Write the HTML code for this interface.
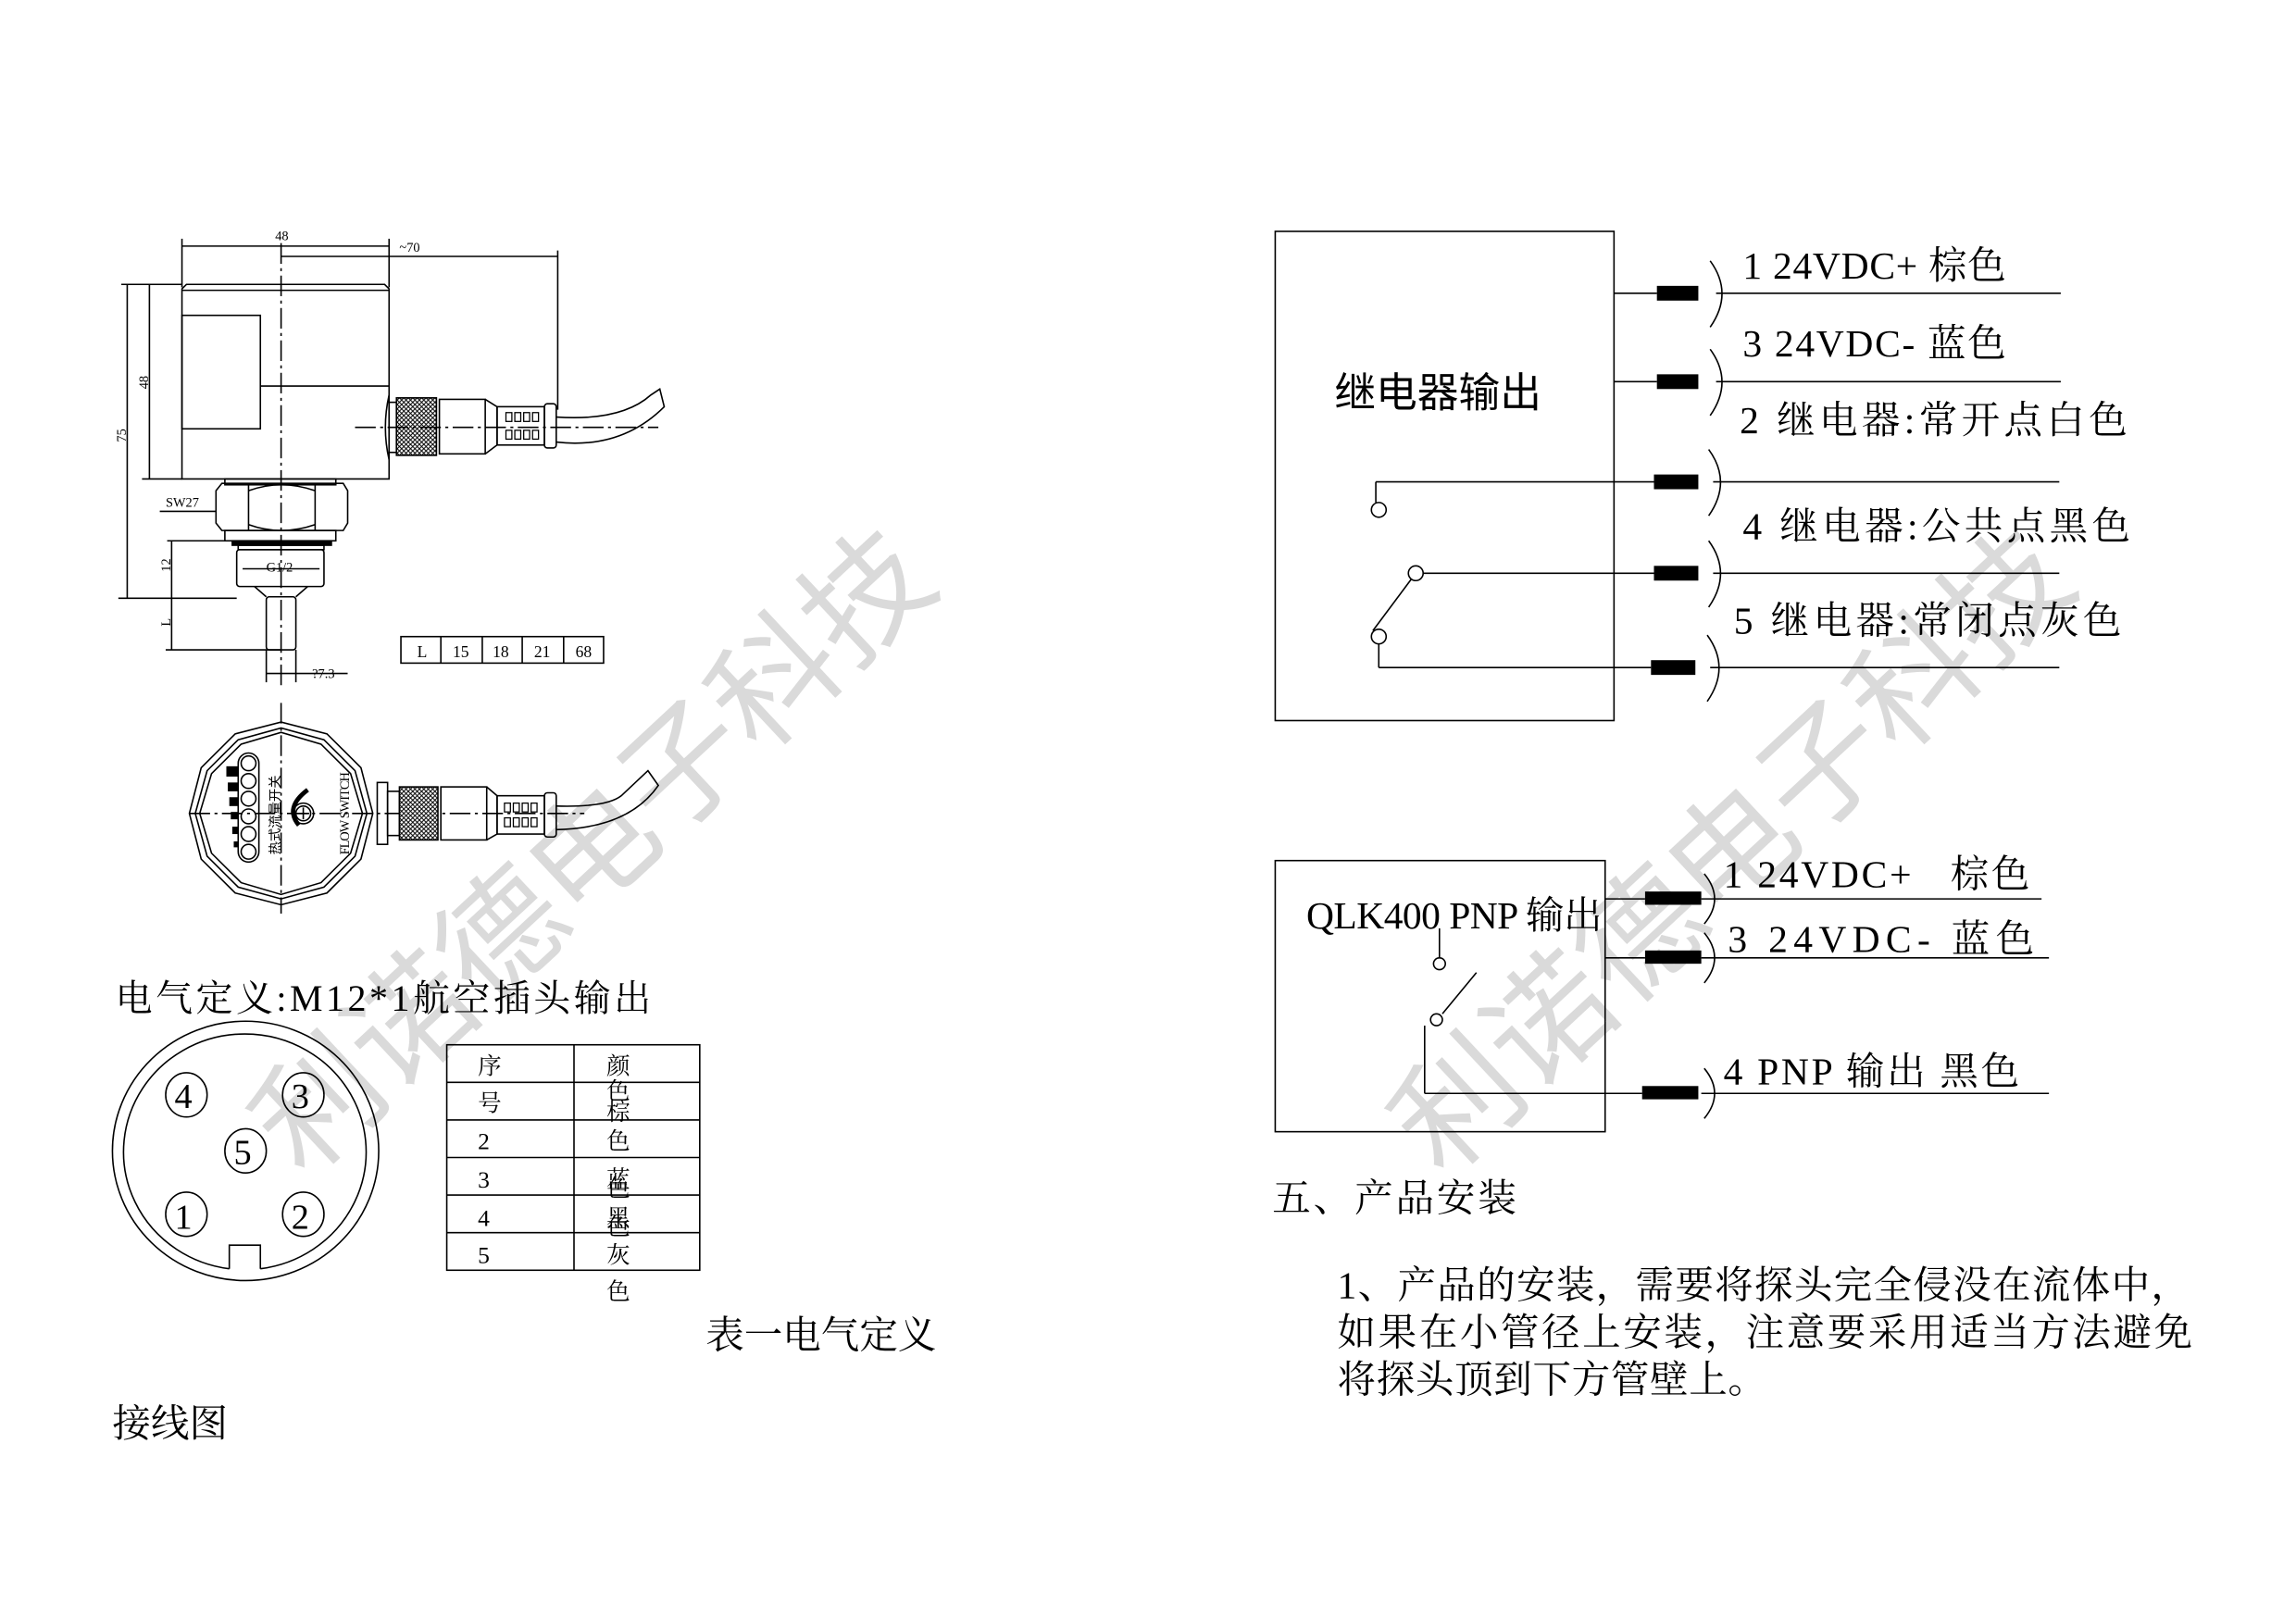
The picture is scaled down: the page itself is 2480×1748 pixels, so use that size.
<!DOCTYPE html>
<html><head><meta charset="utf-8"><style>
html,body{margin:0;padding:0;background:#fff}
svg{display:block}
text{font-family:"Liberation Serif","Noto Serif CJK SC",serif;fill:#000}
.s{font-family:"Liberation Sans","Noto Sans CJK SC",sans-serif}
</style></head><body>
<svg width="2480" height="1748" viewBox="0 0 1552 1098" preserveAspectRatio="none" xmlns="http://www.w3.org/2000/svg">
<g fill="#dcdcdc" opacity="0.9">
<text x="0" y="0" font-size="84" class="s" style="fill:#d6d6d6" transform="translate(205,800) rotate(-43)" textLength="590" lengthAdjust="spacingAndGlyphs">利诺德电子科技</text>
<text x="0" y="0" font-size="84" class="s" style="fill:#d6d6d6" transform="translate(975,800) rotate(-43)" textLength="590" lengthAdjust="spacingAndGlyphs">利诺德电子科技</text>
</g>
<g stroke="#000" stroke-width="1" fill="none">
<!-- top dims -->
<line x1="123" y1="162" x2="123" y2="195"/><line x1="263" y1="162" x2="263" y2="195"/>
<line x1="123" y1="167" x2="263" y2="167"/>
<line x1="190" y1="174" x2="377" y2="174"/><line x1="377" y1="170" x2="377" y2="278"/>
<!-- body -->
<path d="M126 193 H260 L263 196 V325 H123 V196 Z"/>
<line x1="123" y1="197" x2="263" y2="197"/>
<rect x="123" y="214" width="53" height="77"/>
<line x1="176" y1="262" x2="263" y2="262"/>
<line x1="190" y1="165" x2="190" y2="465" stroke-dasharray="14,3,2,3"/>
<!-- left dims -->
<line x1="86" y1="193" x2="86" y2="406"/><line x1="101" y1="193" x2="101" y2="325"/>
<line x1="82" y1="193" x2="123" y2="193"/><line x1="96" y1="325" x2="123" y2="325"/>
<line x1="80" y1="406" x2="160" y2="406"/>
<line x1="113" y1="367" x2="157" y2="367"/>
<line x1="116" y1="367" x2="116" y2="441"/>
<line x1="112" y1="441" x2="190" y2="441"/>
<line x1="108" y1="347" x2="146" y2="347"/>
<!-- hex -->
<rect x="152" y="325" width="75" height="4"/>
<path d="M150 328 H232 L235 333 V355 L232 360 H150 L146 355 V333 Z"/>
<line x1="168" y1="329" x2="168" y2="360"/><line x1="213" y1="329" x2="213" y2="360"/>
<path d="M168 333 Q190 325 213 333 M168 356 Q190 364 213 356"/>
<rect x="152" y="360" width="75" height="7"/>
<rect x="157" y="367" width="67" height="3" fill="#000"/>
<rect x="161" y="370" width="58" height="3"/>
<rect x="160" y="373" width="59" height="25" rx="2"/>
<line x1="164" y1="386" x2="216" y2="386"/>
<path d="M172 398 L180 405 M208 398 L200 405"/>
<rect x="180" y="405" width="20" height="36" rx="2"/>
<line x1="180" y1="441" x2="180" y2="463"/><line x1="200" y1="441" x2="200" y2="463"/>
<line x1="180" y1="457" x2="235" y2="457"/>
<!-- side connector -->
<path d="M263 268 Q258 290 263 312"/>
<rect x="263" y="273" width="5" height="34"/>
<rect x="268" y="270" width="27" height="39" fill="url(#kn)"/>
<rect x="297" y="271" width="31" height="37"/>
<path d="M328 271 L336 276 V302 L328 308"/>
<rect x="336" y="276" width="32" height="26"/>
<rect x="368" y="274" width="8" height="30" rx="2"/>
<g stroke-width="0.8"><rect x="342" y="280" width="4" height="6"/><rect x="348" y="280" width="4" height="6"/><rect x="354" y="280" width="4" height="6"/><rect x="360" y="280" width="4" height="6"/>
<rect x="342" y="292" width="4" height="6"/><rect x="348" y="292" width="4" height="6"/><rect x="354" y="292" width="4" height="6"/><rect x="360" y="292" width="4" height="6"/></g>
<path d="M376 283 Q420 286 440 268 L446 264 L449 276 Q420 305 376 300"/>
<line x1="240" y1="290" x2="445" y2="290" stroke-dasharray="14,3,2,3"/>
<!-- L table -->
<rect x="271" y="432" width="137" height="18"/>
<line x1="298" y1="432" x2="298" y2="450"/><line x1="326" y1="432" x2="326" y2="450"/><line x1="353" y1="432" x2="353" y2="450"/><line x1="381" y1="432" x2="381" y2="450"/>
<!-- bottom view -->
<polygon points="252,552 244,521 221,498 190,490 159,498 136,521 128,552 136,583 159,606 190,614 221,606 244,583"/>
<polygon points="248,552 240,523 219,502 190,494 161,502 140,523 132,552 140,581 161,602 190,610 219,602 240,581"/>
<polygon points="245,552 237,525 217,505 190,497 163,505 143,525 135,552 143,579 163,599 190,607 217,599 237,579"/>
<line x1="128" y1="552" x2="395" y2="552" stroke-dasharray="14,3,2,3"/>
<line x1="190" y1="477" x2="190" y2="620" stroke-dasharray="14,3,2,3"/>
<rect x="161" y="511" width="14" height="74" rx="7"/>
<circle cx="168" cy="518" r="5"/><circle cx="168" cy="530" r="5"/><circle cx="168" cy="542" r="5"/><circle cx="168" cy="554" r="5"/><circle cx="168" cy="566" r="5"/><circle cx="168" cy="578" r="5"/>
<circle cx="205" cy="552" r="7"/><circle cx="205" cy="552" r="5"/><path d="M201 552h8M205 548v8"/>
<path d="M202 560 Q192 548 208 536" stroke-width="3"/>
<rect x="255" y="531" width="7" height="42"/>
<rect x="262" y="537" width="8" height="30"/>
<rect x="270" y="534" width="26" height="36" fill="url(#kn)"/>
<rect x="298" y="534" width="31" height="36"/>
<path d="M329 534 L336 540 V566 L329 570"/>
<rect x="336" y="540" width="32" height="26"/>
<rect x="368" y="538" width="8" height="30" rx="2"/>
<g stroke-width="0.8"><rect x="341" y="545" width="4" height="6"/><rect x="347" y="545" width="4" height="6"/><rect x="353" y="545" width="4" height="6"/><rect x="359" y="545" width="4" height="6"/>
<rect x="341" y="555" width="4" height="6"/><rect x="347" y="555" width="4" height="6"/><rect x="353" y="555" width="4" height="6"/><rect x="359" y="555" width="4" height="6"/></g>
<path d="M376 547 Q410 548 420 540 L438 523 L445 533 Q425 562 376 563"/>
<!-- connector face -->
<ellipse cx="166" cy="781" rx="90" ry="88"/>
<path d="M155 861 A82 80 0 1 1 176 861"/>
<path d="M155 861 V845 H176 V861"/>
<ellipse cx="126" cy="743" rx="14" ry="15"/><ellipse cx="205" cy="743" rx="14" ry="15"/>
<ellipse cx="166" cy="781" rx="14" ry="15"/><ellipse cx="126" cy="824" rx="14" ry="15"/><ellipse cx="205" cy="824" rx="14" ry="15"/>
<!-- table -->
<rect x="302" y="709" width="171" height="153"/>
<line x1="388" y1="709" x2="388" y2="862"/>
<line x1="302" y1="734.5" x2="473" y2="734.5"/><line x1="302" y1="760" x2="473" y2="760"/><line x1="302" y1="785.5" x2="473" y2="785.5"/><line x1="302" y1="811" x2="473" y2="811"/><line x1="302" y1="836.5" x2="473" y2="836.5"/>
<!-- relay box -->
<rect x="862" y="157" width="229" height="332"/>
<line x1="1091" y1="199" x2="1120" y2="199"/><line x1="1091" y1="259" x2="1120" y2="259"/>
<line x1="930" y1="327" x2="1118" y2="327"/><line x1="930" y1="327" x2="930" y2="341"/><circle cx="932" cy="346" r="5"/>
<line x1="962" y1="389" x2="1118" y2="389"/><circle cx="957" cy="389" r="5"/>
<line x1="954" y1="393" x2="928" y2="428"/><circle cx="932" cy="432" r="5"/>
<line x1="932" y1="437" x2="932" y2="453"/><line x1="932" y1="453" x2="1116" y2="453"/>
<line x1="1160" y1="199" x2="1393" y2="199"/><line x1="1160" y1="259" x2="1393" y2="259"/>
<line x1="1158" y1="327" x2="1392" y2="327"/><line x1="1158" y1="389" x2="1392" y2="389"/><line x1="1156" y1="453" x2="1392" y2="453"/>
<path d="M1156 177 Q1172 199 1156 222"/><path d="M1156 237 Q1172 259 1156 282"/>
<path d="M1155 305 Q1171 327 1155 350"/><path d="M1155 367 Q1171 389 1155 412"/><path d="M1154 431 Q1170 453 1154 476"/>
<!-- PNP box -->
<rect x="862" y="584" width="223" height="184"/>
<line x1="1085" y1="610" x2="1112" y2="610"/>
<line x1="1085" y1="650" x2="1112" y2="650"/>
<line x1="1150" y1="610" x2="1380" y2="610"/><line x1="1150" y1="650" x2="1385" y2="650"/><line x1="1150" y1="742" x2="1385" y2="742"/>
<path d="M1152 593 Q1166 610 1152 627"/><path d="M1152 633 Q1166 650 1152 667"/><path d="M1152 725 Q1166 742 1152 759"/>
<line x1="973" y1="630" x2="973" y2="650"/><circle cx="973" cy="654" r="4"/>
<line x1="975" y1="688" x2="998" y2="660"/><circle cx="971" cy="692" r="4"/>
<line x1="963" y1="696" x2="963" y2="742"/><line x1="963" y1="742" x2="1110" y2="742"/>
</g>
<defs><pattern id="kn" width="3" height="3" patternUnits="userSpaceOnUse"><rect width="3" height="3" fill="#fff"/><path d="M0 0L3 3M3 0L0 3" stroke="#000" stroke-width="0.6"/></pattern></defs>
<g fill="#000">
<rect x="1120" y="194" width="28" height="10"/><rect x="1120" y="254" width="28" height="10"/>
<rect x="1118" y="322" width="30" height="10"/><rect x="1118" y="384" width="30" height="10"/><rect x="1116" y="448" width="30" height="10"/>
<rect x="1112" y="605" width="38" height="9"/><rect x="1112" y="645" width="38" height="9"/><rect x="1110" y="737" width="38" height="9"/>
<rect x="153" y="520" width="8" height="7"/><rect x="154" y="531" width="7" height="6"/><rect x="155" y="541" width="6" height="6"/><rect x="156" y="551" width="5" height="5"/><rect x="157" y="561" width="4" height="5"/><rect x="158" y="571" width="3" height="4"/>
</g>
<!-- small texts -->
<text x="186" y="163" font-size="9">48</text>
<text x="270" y="171" font-size="9">~70</text>
<text font-size="9" transform="translate(85,300) rotate(-90)">75</text>
<text font-size="9" transform="translate(100,264) rotate(-90)">48</text>
<text font-size="9" transform="translate(115,388) rotate(-90)">12</text>
<text font-size="9" transform="translate(115,425) rotate(-90)">L</text>
<text x="112" y="344" font-size="9">SW27</text>
<text x="180" y="388" font-size="9">G1/2</text>
<text x="211" y="460" font-size="9">?7.3</text>
<text x="282" y="446" font-size="11">L</text><text x="306" y="446" font-size="11">15</text><text x="333" y="446" font-size="11">18</text><text x="361" y="446" font-size="11">21</text><text x="389" y="446" font-size="11">68</text>
<text font-size="9" transform="translate(236,580) rotate(-90)" textLength="56">FLOW SWITCH</text>
<text font-size="9" transform="translate(189,580) rotate(-90)" class="s">热式流量开关</text>
<text x="78" y="686" font-size="25" textLength="362">电气定义:M12*1航空插头输出</text>
<text x="118" y="752" font-size="24">4</text><text x="197" y="752" font-size="24">3</text><text x="158" y="790" font-size="24">5</text><text x="118" y="834" font-size="24">1</text><text x="197" y="834" font-size="24">2</text>
<g font-size="16">
<text x="323" y="729">序</text><text x="323" y="754">号</text><text x="323" y="780">2</text><text x="323" y="806">3</text><text x="323" y="832">4</text><text x="323" y="857">5</text>
<text x="410" y="729">颜</text><text x="410" y="746">色</text><text x="410" y="760">棕</text><text x="410" y="780">色</text><text x="410" y="806">蓝</text><text x="410" y="812">色</text><text x="410" y="832">黑</text><text x="410" y="838">色</text><text x="410" y="857">灰</text><text x="410" y="882">色</text>
</g>
<text x="477" y="915" font-size="26">表一电气定义</text>
<text x="76" y="975" font-size="26">接线图</text>
<text x="902" y="276" font-size="28" class="s">继电器输出</text>
<g font-size="26">
<text x="1178" y="189" textLength="178">1 24VDC+ 棕色</text>
<text x="1178" y="242" textLength="178">3 24VDC- 蓝色</text>
<text x="1176" y="294" textLength="262">2 继电器:常开点白色</text>
<text x="1178" y="366" textLength="262">4 继电器:公共点黑色</text>
<text x="1172" y="430" textLength="262">5 继电器:常闭点灰色</text>
<text x="1165" y="602" textLength="207">1 24VDC+ &#160;&#160;棕色</text>
<text x="1168" y="646" textLength="207">3 24VDC- 蓝色</text>
<text x="1165" y="736" textLength="200">4 PNP 输出 黑色</text>
<text x="883" y="630" textLength="200">QLK400 PNP 输出</text>
<text x="860" y="822" textLength="165">五、产品安装</text>
<text x="904" y="881" textLength="576">1、产品的安装，需要将探头完全侵没在流体中，</text>
<text x="904" y="913" textLength="578">如果在小管径上安装，注意要采用适当方法避免</text>
<text x="904" y="945" textLength="290">将探头顶到下方管壁上。</text>
</g>
</svg>
</body></html>
